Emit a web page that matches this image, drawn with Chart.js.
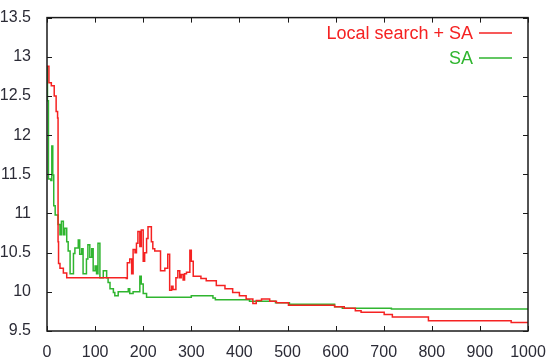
<!DOCTYPE html>
<html lang="en">
<head>
  <meta charset="UTF-8">
  <title>Local search + SA vs SA</title>
  <style>
    body { margin: 0; background: #fff; }
    #wrap { width: 550px; height: 359px; }
  </style>
</head>
<body>

<div id="wrap">
  <canvas id="myChart" width="550" height="359"></canvas>
</div>
<script src="https://cdn.jsdelivr.net/npm/chart.js"></script>

<script>
  // data (iteration, value); each value holds until the next x
  const seriesNames = ['Local search + SA', 'SA'];

  const lsX = [0, 4, 9, 15, 19, 22, 23, 24, 27, 34, 41, 165, 167, 172, 176, 179, 183, 186, 189, 193,
    196, 200, 203, 207, 210, 217, 220, 224, 236, 245, 251, 255, 259, 262, 268, 272, 276, 279, 283, 286,
    290, 297, 300, 304, 320, 331, 352, 370, 386, 400, 414, 428, 435, 446, 463, 477, 502, 598, 618, 641,
    653, 701, 718, 793, 965, 1000];
  const lsY = [12.88, 12.67, 12.63, 12.5, 12.3, 12.22, 10.64, 10.36, 10.3, 10.24, 10.18, 10.17, 10.37, 10.42, 10.23, 10.54, 10.5, 10.62, 10.77, 10.58,
    10.79, 10.39, 10.5, 10.68, 10.83, 10.64, 10.55, 10.52, 10.27, 10.3, 10.48, 10.02, 10.07, 10.03, 10.18, 10.27, 10.18, 10.22, 10.15, 10.23,
    10.25, 10.53, 10.39, 10.2, 10.17, 10.14, 10.08, 10.04, 9.99, 9.95, 9.91, 9.85, 9.89, 9.91, 9.88, 9.86, 9.83, 9.81, 9.79, 9.76,
    9.74, 9.71, 9.68, 9.63, 9.61, 9.61];

  const saX = [0, 1, 3, 8, 10, 12, 14, 17, 23, 27, 30, 34, 37, 41, 44, 48, 55, 58, 65, 68,
    72, 75, 82, 85, 89, 93, 96, 100, 103, 106, 110, 117, 124, 127, 131, 138, 141, 148, 169, 172,
    179, 193, 196, 200, 207, 300, 345, 350, 421, 475, 504, 598, 614, 716, 1000];
  const saY = [12.87, 12.44, 11.44, 11.42, 11.86, 11.49, 11.1, 10.98, 10.86, 10.73, 10.9, 10.73, 10.81, 10.64, 10.52, 10.23, 10.49, 10.56, 10.66, 10.48,
    10.55, 10.23, 10.42, 10.6, 10.44, 10.55, 10.27, 10.33, 10.23, 10.62, 10.18, 10.27, 10.18, 10.12, 10.04, 9.99, 9.95, 10.0, 10.04, 9.98,
    10.0, 10.2, 10.1, 9.98, 9.93, 9.95, 9.92, 9.9, 9.88, 9.86, 9.84, 9.81, 9.79, 9.78, 9.78];

  const xTicks = ['0', '100', '200', '300', '400', '500', '600', '700', '800', '900', '1000'];
  const yTicks = ['9.5', '10', '10.5', '11', '11.5', '12', '12.5', '13', '13.5'];

  const colors = ['#f52222', '#2fb52f'];

  function points(xs, ys) {
    return xs.map((x, i) => ({ x: x, y: ys[i] }));
  }

  // gnuplot style frame: border all round, ticks pointing inward, key top right
  const frame = {
    id: 'frame',
    afterDraw(chart) {
      const ctx = chart.ctx;
      const a = chart.chartArea;
      const xs = chart.scales.x, ys = chart.scales.y;
      ctx.save();
      ctx.strokeStyle = '#1a1a1a';
      ctx.lineWidth = 1.5;
      ctx.strokeRect(a.left, a.top, a.right - a.left, a.bottom - a.top);
      ctx.lineWidth = 1;
      ctx.beginPath();
      xs.ticks.forEach(t => {
        const px = Math.round(xs.getPixelForValue(t.value)) + 0.5;
        ctx.moveTo(px, a.bottom); ctx.lineTo(px, a.bottom - 5);
        ctx.moveTo(px, a.top); ctx.lineTo(px, a.top + 5);
      });
      ys.ticks.forEach(t => {
        const py = Math.round(ys.getPixelForValue(t.value)) + 0.5;
        ctx.moveTo(a.left, py); ctx.lineTo(a.left + 5, py);
        ctx.moveTo(a.right, py); ctx.lineTo(a.right - 5, py);
      });
      ctx.stroke();

      ctx.font = '18px "Liberation Sans", Arial, sans-serif';
      ctx.textAlign = 'right';
      ctx.textBaseline = 'middle';
      chart.data.datasets.forEach((ds, i) => {
        const y = 33 + i * 25;
        ctx.fillStyle = ds.borderColor;
        ctx.fillText(ds.label, 473, y + 1);
        ctx.strokeStyle = ds.borderColor;
        ctx.lineWidth = 1.5;
        ctx.beginPath();
        ctx.moveTo(479, y); ctx.lineTo(512, y);
        ctx.stroke();
      });
      ctx.restore();
    }
  };

  const tickFont = { family: '"Liberation Sans", Arial, sans-serif', size: 16 };

  new Chart(document.getElementById('myChart'), {
    type: 'line',
    data: {
      datasets: [
        { label: seriesNames[0], data: points(lsX, lsY), borderColor: colors[0], borderWidth: 1.5, stepped: 'before', pointRadius: 0, fill: false },
        { label: seriesNames[1], data: points(saX, saY), borderColor: colors[1], borderWidth: 1.5, stepped: 'before', pointRadius: 0, fill: false }
      ]
    },
    options: {
      responsive: false,
      animation: false,
      devicePixelRatio: 1,
      layout: { padding: { top: 13, right: 22, left: 0, bottom: 0 } },
      plugins: { legend: { display: false }, tooltip: { enabled: false } },
      scales: {
        x: {
          type: 'linear', min: 0, max: 1000,
          ticks: { stepSize: 100, padding: 4, color: '#2b2b36', font: tickFont, maxRotation: 0,
            callback: (v, i) => xTicks[i] },
          grid: { display: false },
          border: { display: false },
          afterFit(s) { s.height = 28; }
        },
        y: {
          min: 9.5, max: 13.5,
          ticks: { stepSize: 0.5, padding: 8, color: '#2b2b36', font: tickFont,
            callback: (v, i) => yTicks[i] },
          grid: { display: false },
          border: { display: false },
          afterFit(s) { s.width = 47; }
        }
      }
    },
    plugins: [frame]
  });
</script>
</body>
</html>
